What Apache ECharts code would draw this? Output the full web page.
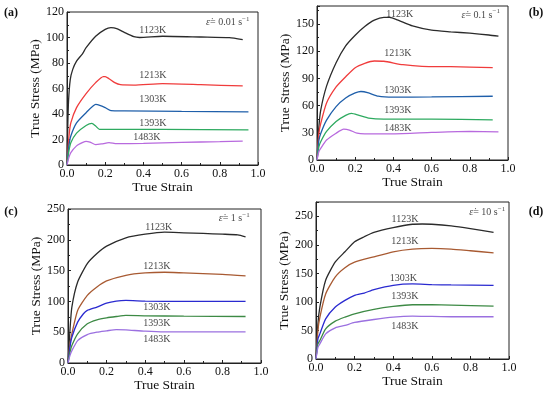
<!DOCTYPE html>
<html><head><meta charset="utf-8">
<script src="https://cdn.jsdelivr.net/npm/echarts@6/dist/echarts.min.js"></script>
<style>html,body{margin:0;padding:0;background:#fff}#c{width:550px;height:394px}</style>
</head><body><div id="c"></div><script>
const temps = ['1123K','1213K','1303K','1393K','1483K'];
const rates = ['0.01','0.1','1','10'];
const panelNames = ['(a)','(b)','(c)','(d)'];
const xTicks = [0,0.2,0.4,0.6,0.8,1.0];
const yMax = [120,170,250,275];
const yStep = [20,30,50,50];

// Panel (a) strain rate 0.01 s^-1
const a1123 = [[0,0],[0.004,30],[0.008,50],[0.017,67],[0.03,75],[0.05,81.5],[0.08,87],[0.1,92],[0.15,101],[0.2,106.4],[0.23,107.7],[0.26,107],[0.3,104],[0.35,100.6],[0.38,100],[0.5,101],[0.7,100.4],[0.85,99.9],[0.92,98.3]];
const a1213 = [[0,0],[0.01,22],[0.02,33],[0.05,45],[0.1,56],[0.15,64.6],[0.19,69.3],[0.2,69.3],[0.22,67.7],[0.25,64.6],[0.28,63],[0.35,62.7],[0.5,63.8],[0.7,63],[0.92,62]];
const a1303 = [[0,0],[0.01,15],[0.02,22.7],[0.05,33],[0.1,41],[0.15,47.6],[0.16,47.3],[0.2,45],[0.23,42.6],[0.3,42.4],[0.6,42],[0.95,41.6]];
const a1393 = [[0,0],[0.01,11],[0.02,17.5],[0.05,25],[0.1,31],[0.13,32.7],[0.15,30.6],[0.17,28],[0.2,28],[0.5,28],[0.95,27.5]];
const a1483 = [[0,0],[0.01,6],[0.02,9.7],[0.05,15],[0.08,17.5],[0.1,18.6],[0.12,18],[0.15,16],[0.18,16.5],[0.22,17.5],[0.26,16.7],[0.4,17],[0.6,17.8],[0.8,18.3],[0.92,18.8]];
// Panel (b) 0.1 s^-1
const b1123 = [[0,0],[0.01,37],[0.02,55.6],[0.05,81.5],[0.1,107.4],[0.15,126],[0.2,137.8],[0.25,147.4],[0.3,154.4],[0.35,157.4],[0.38,157.4],[0.42,154.8],[0.5,148],[0.6,143.3],[0.7,141.5],[0.8,140],[0.9,138],[0.95,136.7]];
const b1213 = [[0,0],[0.01,29.6],[0.02,40.7],[0.05,63],[0.1,80.7],[0.15,91.9],[0.2,101.9],[0.25,106.7],[0.3,109.3],[0.35,109],[0.45,105.2],[0.55,103.3],[0.7,103],[0.8,102.6],[0.92,101.9]];
const b1303 = [[0,0],[0.01,22],[0.02,29.6],[0.05,44],[0.1,59],[0.15,68.5],[0.2,74],[0.23,75.6],[0.27,74],[0.32,70.4],[0.4,69.3],[0.6,69.6],[0.92,70.4]];
const b1393 = [[0,0],[0.01,14.8],[0.02,20.4],[0.05,31.5],[0.1,42.6],[0.15,49.3],[0.18,51.5],[0.22,49.3],[0.27,46.3],[0.35,45.2],[0.6,45.2],[0.92,44.4]];
const b1483 = [[0,0],[0.01,9.3],[0.02,13],[0.05,22],[0.1,29.6],[0.14,34],[0.17,33],[0.21,29.6],[0.25,28.9],[0.4,28.9],[0.6,30.4],[0.8,31.5],[0.95,31.1]];
// Panel (c) 1 s^-1
const c1123 = [[0,0],[0.01,52.7],[0.02,90.8],[0.05,131.5],[0.1,161.4],[0.15,177.7],[0.2,189.7],[0.3,203.3],[0.4,209.2],[0.5,212.5],[0.6,211.4],[0.7,210.3],[0.8,209.2],[0.88,208],[0.92,204.9]];
const c1213 = [[0,0],[0.01,31],[0.02,47.3],[0.05,85.3],[0.1,109.8],[0.15,123.4],[0.2,133.2],[0.3,142.4],[0.4,146.2],[0.5,147.3],[0.6,146.2],[0.8,144],[0.92,141.3]];
const c1303 = [[0,0],[0.01,25.5],[0.02,41.8],[0.05,66.3],[0.08,79.9],[0.1,85.3],[0.15,90.8],[0.2,97.3],[0.25,100.5],[0.3,101.6],[0.4,100.5],[0.6,100],[0.92,100]];
const c1393 = [[0,0],[0.01,17.4],[0.02,28.3],[0.05,47.3],[0.1,63.6],[0.15,70.1],[0.2,73.4],[0.25,75.5],[0.3,77.2],[0.4,76.6],[0.6,76],[0.92,75.5]];
const c1483 = [[0,0],[0.01,12],[0.02,20],[0.05,36.4],[0.1,46.2],[0.15,50],[0.2,52.2],[0.25,54.3],[0.3,53.8],[0.4,51.6],[0.5,50.5],[0.7,50.5],[0.92,50.5]];
// Panel (d) 10 s^-1
const d1123 = [[0,0],[0.01,61.6],[0.02,91],[0.05,138],[0.1,170],[0.15,187.8],[0.2,205.4],[0.25,214.2],[0.3,221.8],[0.4,230],[0.5,236],[0.55,236.5],[0.6,236],[0.7,233],[0.8,228.3],[0.92,221.8]];
const d1213 = [[0,0],[0.01,50],[0.02,73],[0.05,114],[0.1,144],[0.15,160],[0.2,169.6],[0.3,179],[0.4,187.8],[0.5,192.5],[0.6,193.7],[0.7,192.5],[0.8,189.6],[0.92,186]];
const d1303 = [[0,0],[0.01,35],[0.02,44],[0.05,70.4],[0.1,91],[0.15,102.7],[0.2,111.5],[0.25,115.6],[0.3,121.5],[0.4,129],[0.5,131.5],[0.6,130.3],[0.7,129.7],[0.92,129]];
const d1393 = [[0,0],[0.01,26.4],[0.02,32.3],[0.05,52.8],[0.1,66.3],[0.15,73.4],[0.2,79.2],[0.3,86.9],[0.4,92.1],[0.5,95],[0.6,95],[0.7,94.5],[0.92,92.7]];
const d1483 = [[0,0],[0.01,20.5],[0.02,26.4],[0.05,44],[0.1,54.6],[0.15,58.7],[0.2,64],[0.3,69.2],[0.4,73.4],[0.5,75.1],[0.6,74.5],[0.7,74],[0.92,74]];

// Temperature label anchor points (strain, stress) per panel
const aLab = [[0.449,105.5],[0.449,70],[0.449,51.7],[0.449,32.8],[0.418,21.8]];
const bLab = [[0.433,161],[0.424,117.4],[0.424,77],[0.424,54.4],[0.424,35.2]];
const cLab = [[0.47,219.6],[0.461,157],[0.461,90.8],[0.461,63.6],[0.461,38]];
const dLab = [[0.461,244.7],[0.461,205.4],[0.453,142],[0.461,109.7],[0.461,57]];
// strain-rate label anchors
const rateLab = [[0.842,112],[0.857,160],[0.861,234],[0.887,257]];

const panels = [
  [a1123,a1213,a1303,a1393,a1483],
  [b1123,b1213,b1303,b1393,b1483],
  [c1123,c1213,c1303,c1393,c1483],
  [d1123,d1213,d1303,d1393,d1483]
];
const labs = [aLab,bLab,cLab,dLab];
const colorsAB = ['#2b2b2b','#f03c3c','#1f5faa','#2eaa60','#b86ade'];
const colorsCD = ['#2b2b2b','#a85a32','#2a2ad0','#3d8a45','#9b70e0'];
const FONT = "'Liberation Serif','Times New Roman',serif";

const grids = [
  {left:67, top:12, width:191, height:153},
  {left:317, top:6, width:191, height:154},
  {left:68, top:209, width:193, height:154},
  {left:316, top:202, width:193, height:157}
];

const chart = echarts.init(document.getElementById('c'), null, {renderer:'canvas'});
const option = {
  animation:false,
  backgroundColor:'#fff',
  grid: grids.map(g => Object.assign({show:true, borderColor:'#222', borderWidth:1, backgroundColor:'transparent'}, g)),
  xAxis: grids.map((g,i) => ({
    gridIndex:i, type:'value', min:0, max:1, interval:0.2,
    name:'True Strain', nameLocation:'middle', nameGap:14,
    nameTextStyle:{fontFamily:FONT, fontSize:13.5, color:'#111'},
    axisLine:{show:true, lineStyle:{color:'#222', width:1}},
    axisTick:{show:true, inside:true, length:3, lineStyle:{color:'#222'}},
    minorTick:{show:true, splitNumber:2, length:2, lineStyle:{color:'#222'}},
    splitLine:{show:false},
    axisLabel:{fontFamily:FONT, fontSize:12, color:'#111', margin:3, formatter:v=>v.toFixed(1)}
  })),
  yAxis: grids.map((g,i) => ({
    gridIndex:i, type:'value', min:0, max:yMax[i], interval:yStep[i],
    name:'True Stress (MPa)', nameLocation:'middle', nameGap:15,
    nameTextStyle:{fontFamily:FONT, fontSize:13.5, color:'#111'},
    axisLine:{show:true, lineStyle:{color:'#222', width:1}},
    axisTick:{show:true, inside:true, length:3, lineStyle:{color:'#222'}},
    minorTick:{show:true, splitNumber:2, length:2, lineStyle:{color:'#222'}},
    splitLine:{show:false},
    axisLabel:{fontFamily:FONT, fontSize:12, color:'#111', margin:3, showMaxLabel: yMax[i] % yStep[i] === 0}
  })),
  series: [],
  graphic: []
};

panels.forEach((curves, p) => {
  const cols = p < 2 ? colorsAB : colorsCD;
  curves.forEach((data, k) => {
    option.series.push({
      type:'line', xAxisIndex:p, yAxisIndex:p, data:data, showSymbol:false,
      smooth:0.2, silent:true,
      lineStyle:{color:cols[k], width:1.3}
    });
  });
  option.series.push({
    type:'scatter', xAxisIndex:p, yAxisIndex:p, symbolSize:0, silent:true,
    data: labs[p].map((c,k) => [c[0], c[1], temps[k]]),
    label:{show:true, position:'inside', formatter:q=>q.value[2], fontFamily:FONT, fontSize:10, color:'#111'}
  });
  option.series.push({
    type:'scatter', xAxisIndex:p, yAxisIndex:p, symbolSize:0, silent:true,
    data: [[rateLab[p][0], rateLab[p][1], rates[p]]],
    label:{show:true, position:'inside', fontFamily:FONT, fontSize:10, color:'#111',
      formatter:q=>'{e|ε̇}= ' + q.value[2] + ' s{s|−1}',
      rich:{e:{fontFamily:FONT, fontSize:10, fontStyle:'italic', color:'#111'},
            s:{fontFamily:FONT, fontSize:7, color:'#111', verticalAlign:'top', lineHeight:14}}}
  });
});

const letterPos = [[11,13],[536,13],[11,212],[536,212]];
panelNames.forEach((n,i) => {
  option.graphic.push({type:'text', x:letterPos[i][0], y:letterPos[i][1],
    style:{text:n, font:"bold 12px 'Liberation Serif', serif", fill:'#111', align:'center', verticalAlign:'middle'}});
});

chart.setOption(option);
</script></body></html>
